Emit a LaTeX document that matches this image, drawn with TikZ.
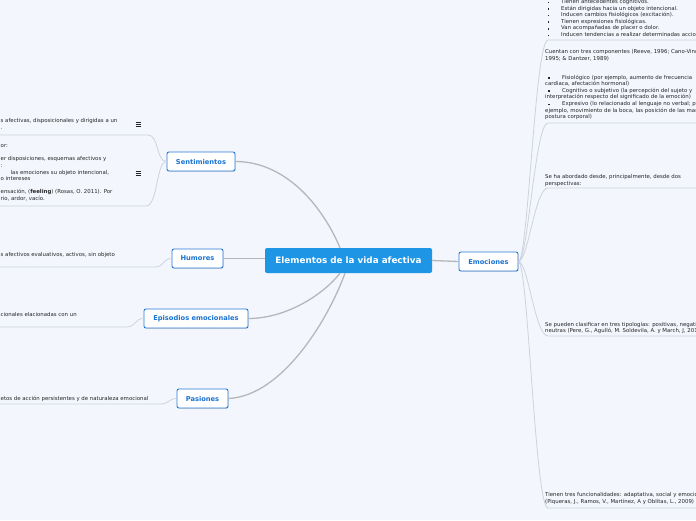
\documentclass[tikz,border=0pt]{standalone}
\usepackage{fontspec}
\setmainfont{DejaVu Sans}
\usetikzlibrary{shadows}
\definecolor{bgc}{HTML}{F3F6FD}
\definecolor{ctrfill}{HTML}{1F95E6}
\definecolor{chborder}{HTML}{2A7BD8}
\definecolor{chtext}{HTML}{1A73D1}
\definecolor{mainline}{HTML}{B7B7B9}
\definecolor{subline}{HTML}{CDD2DC}
\definecolor{txtc}{HTML}{262626}
\newcommand{\sqb}{\rule[0.3pt]{1.6pt}{1.6pt}}
\tikzset{
  ctr/.style={fill=ctrfill, draw=none, rounded corners=2pt, text=white,
    font=\bfseries\fontsize{8.8}{10}\selectfont, inner sep=0pt,
    minimum width=167pt, minimum height=25pt},
  child/.style={fill=white, draw=chborder, line width=0.9pt, rounded corners=2pt,
    text=chtext, font=\bfseries\fontsize{6.7}{7.5}\selectfont, inner sep=0pt,
    minimum height=19pt, drop shadow={shadow xshift=0.6pt, shadow yshift=-0.8pt, opacity=0.25}},
  mainconn/.style={draw=mainline, line width=1.3pt},
  subconn/.style={draw=subline, line width=0.8pt},
  txt/.style={text=txtc, font=\fontsize{5.4}{6.6}\selectfont, inner sep=0pt,
    anchor=north west, align=left},
  icon/.style={draw=txtc, line width=0.7pt}
}
\begin{document}
\begin{tikzpicture}[x=1pt,y=-1pt]
\fill[bgc] (0,0) rectangle (696,520);
\useasboundingbox (0,0) rectangle (696,520);

% main nodes
\node[ctr] (c) at (348.5,260.5) {Elementos de la vida afectiva};
\node[child, minimum width=68pt] (sen) at (201,161.5) {Sentimientos};
\node[child, minimum width=51pt] (hum) at (197.5,258.5) {Humores};
\node[child, minimum width=104pt] (epi) at (196,318.5) {Episodios emocionales};
\node[child, minimum width=51pt] (pas) at (202.5,398.5) {Pasiones};
\node[child, minimum width=59pt] (emo) at (488.5,261.5) {Emociones};

% coordinates for underline ends
\coordinate (s1a) at (148,135); \coordinate (s1b) at (-5,135);
\coordinate (s2a) at (146,206); \coordinate (s2b) at (-5,206);
\coordinate (h1a) at (155,267); \coordinate (h1b) at (-5,267);
\coordinate (e1a) at (126,327); \coordinate (e1b) at (-5,327);
\coordinate (p1a) at (160,404); \coordinate (p1b) at (-5,404);
\coordinate (r1a) at (548,40);  \coordinate (r1b) at (700,40);
\coordinate (r2a) at (548,123); \coordinate (r2b) at (700,123);
\coordinate (r3a) at (548,188); \coordinate (r3b) at (700,188);
\coordinate (r4a) at (548,336); \coordinate (r4b) at (700,336);
\coordinate (r5a) at (548,508); \coordinate (r5b) at (700,508);

% sub connectors
\draw[subconn] (sen.west) .. controls (156,161.5) and (159,135) .. (s1a) -- (s1b);
\draw[subconn] (sen.west) .. controls (156,161.5) and (158,206) .. (s2a) -- (s2b);
\draw[subconn] (hum.west) .. controls (163,258.5) and (164,267) .. (h1a) -- (h1b);
\draw[subconn] (epi.west) .. controls (135,318.5) and (136,327) .. (e1a) -- (e1b);
\draw[subconn] (pas.west) .. controls (169,398.5) and (169,404) .. (p1a) -- (p1b);
\draw[subconn] (emo.east) .. controls (528,261.5) and (535,40) .. (r1a) -- (r1b);
\draw[subconn] (emo.east) .. controls (528,261.5) and (535,123) .. (r2a) -- (r2b);
\draw[subconn] (emo.east) .. controls (528,261.5) and (535,188) .. (r3a) -- (r3b);
\draw[subconn] (emo.east) .. controls (528,261.5) and (535,336) .. (r4a) -- (r4b);
\draw[subconn] (emo.east) .. controls (528,261.5) and (535,508) .. (r5a) -- (r5b);

% main connectors
\draw[mainconn] (sen.east) .. controls (285,161.5) and (322,205) .. ([xshift=-8.5pt]c.north);
\draw[mainconn] (hum.east) -- (c.west |- hum.east);
\draw[mainconn] (epi.east) .. controls (285,318.5) and (322,296) .. ([xshift=-8.5pt]c.south);
\draw[mainconn] (pas.east) .. controls (282,396) and (328,320) .. ([xshift=-3.5pt]c.south);
\draw[mainconn] (c.east) -- (emo.west);

% left texts
\node[txt] (ts1) at (0.5,118.5) {s afectivas, disposicionales y dirigidas a un\\.};
\node[txt] (ts2) at (0.5,144.5) {or:\\[6.6pt]er disposiciones, esquemas afectivos y\\:\\\hspace{10pt}las emociones su objeto intencional,\\o intereses\\[6.6pt]ensación, (\textbf{feeling}) (Rosas, O. 2011). Por\\rio, ardor, vacío.};
\node[txt] (th1) at (0.5,252.5) {s afectivos evaluativos, activos, sin objeto};
\node[txt] (te1) at (0.5,312.5) {cionales elacionadas con un};
\node[txt] (tp1) at (0.5,395.5) {etos de acción persistentes y de naturaleza emocional};

% icons
\draw[icon] (135.5,122) -- (140.5,122) (135.5,124.2) -- (140.5,124.2) (135.5,126.4) -- (140.5,126.4);
\draw[icon] (135.5,171) -- (140.5,171) (135.5,173.2) -- (140.5,173.2) (135.5,175.4) -- (140.5,175.4);

% right texts
\node[txt] (tr1) at (547.5,-0.9) {\makebox[13.5pt][l]{\sqb}Tienen antecedentes cognitivos.\\
\makebox[13.5pt][l]{\sqb}Están dirigidas hacia un objeto intencional.\\
\makebox[13.5pt][l]{\sqb}Inducen cambios fisiológicos (excitación).\\
\makebox[13.5pt][l]{\sqb}Tienen expresiones fisiológicas.\\
\makebox[13.5pt][l]{\sqb}Van acompañadas de placer o dolor.\\
\makebox[13.5pt][l]{\sqb}Inducen tendencias a realizar determinadas acciones.};
\node[txt] (tr2) at (545,49.5) {Cuentan con tres componentes (Reeve, 1996; Cano-Vindel,\\1995; \& Dantzer, 1989)\\[12pt]
\hspace{3pt}\makebox[14pt][l]{\sqb}Fisiológico (por ejemplo, aumento de frecuencia\\cardiaca, afectación hormonal)\\
\hspace{3pt}\makebox[14pt][l]{\sqb}Cognitivo o subjetivo (la percepción del sujeto y\\interpretación respecto del significado de la emoción)\\
\hspace{3pt}\makebox[14pt][l]{\sqb}Expresivo (lo relacionado al lenguaje no verbal; por\\ejemplo, movimiento de la boca, las posición de las manos,\\postura corporal)};
\node[txt] (tr3) at (545,174.5) {Se ha abordado desde, principalmente, desde dos\\perspectivas:};
\node[txt] (tr4) at (545,321.5) {Se pueden clasificar en tres tipologías: positivas, negativas y\\neutras (Pere, G., Agulló, M. Soldevila, A. y March, J, 2010)};
\node[txt] (tr5) at (545,492.5) {Tienen tres funcionalidades: adaptativa, social y emocional\\(Piqueras, J., Ramos, V., Martínez, A y Oblitas, L., 2009)};
\end{tikzpicture}
\end{document}
